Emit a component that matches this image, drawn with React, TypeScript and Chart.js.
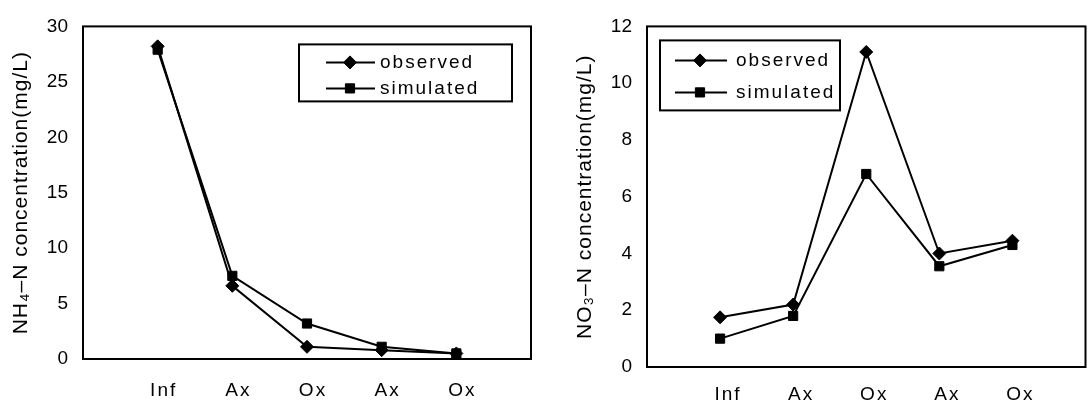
import React, { useEffect, useRef } from 'react';
import { Chart, registerables } from 'chart.js';
import { drawPoint } from 'chart.js/helpers';

Chart.register(...registerables);

// ---- data ----
const categories = ['Inf', 'Ax', 'Ox', 'Ax', 'Ox'];
const seriesNames = ['observed', 'simulated'];
const nh4Observed = [28.2, 6.6, 1.1, 0.8, 0.5];
const nh4Simulated = [27.9, 7.5, 3.2, 1.1, 0.5];
const no3Observed = [1.75, 2.2, 11.1, 4.0, 4.45];
const no3Simulated = [1.0, 1.8, 6.8, 3.55, 4.3];
const nh4Ticks = [0, 5, 10, 15, 20, 25, 30];
const no3Ticks = [0, 2, 4, 6, 8, 10, 12];
const nh4Title = 'NH₄–N concentration(mg/L)';
const no3Title = 'NO₃–N concentration(mg/L)';

const FONT = '"Liberation Sans", Arial, Helvetica, sans-serif';

const spacingPlugin = {
  id: 'spacing',
  beforeDraw(chart: any) {
    chart.ctx.letterSpacing = '2px';
  },
};

const framePlugin = {
  id: 'frame',
  beforeDatasetsDraw(chart: any) {
    const { ctx } = chart;
    const { left, top, right, bottom } = chart.chartArea;
    ctx.save();
    ctx.lineWidth = 2;
    ctx.strokeStyle = '#000';
    ctx.strokeRect(left, top, right - left, bottom - top);
    ctx.restore();
  },
};

const boxLegendPlugin = {
  id: 'boxLegend',
  afterDraw(chart: any, _args: any, opts: any) {
    const { ctx } = chart;
    const ca = chart.chartArea;
    const x = ca.left + opts.dx;
    const y = ca.top + opts.dy;
    ctx.save();
    ctx.fillStyle = '#fff';
    ctx.fillRect(x, y, opts.w, opts.h);
    ctx.lineWidth = 2;
    ctx.strokeStyle = '#000';
    ctx.strokeRect(x, y, opts.w, opts.h);
    chart.data.datasets.forEach((ds: any, i: number) => {
      const cy = y + opts.rows[i];
      ctx.beginPath();
      ctx.lineWidth = 2;
      ctx.strokeStyle = '#000';
      ctx.moveTo(x + opts.lineFrom, cy);
      ctx.lineTo(x + opts.lineTo, cy);
      ctx.stroke();
      ctx.fillStyle = '#000';
      ctx.lineWidth = 1;
      drawPoint(ctx, { pointStyle: ds.pointStyle, radius: ds.pointRadius, borderWidth: 1, rotation: 0 } as any, x + opts.marker, cy);
      ctx.fillStyle = '#000';
      ctx.font = `19px ${FONT}`;
      ctx.textBaseline = 'middle';
      ctx.textAlign = 'left';
      ctx.letterSpacing = '2px';
      ctx.fillText(ds.label, x + opts.textX, cy);
    });
    ctx.restore();
  },
};

type PanelProps = {
  width: number;
  observed: number[];
  simulated: number[];
  ticks: number[];
  title: string;
  yAxisWidth: number;
  xAxisHeight: number;
  padding: { top: number; right: number; bottom: number; left: number };
  xTickPadding: number;
  labelOffset: number;
  titlePad: number;
  legend: any;
};

function Panel(p: PanelProps) {
  const ref = useRef<HTMLCanvasElement | null>(null);
  useEffect(() => {
    if (!ref.current) return;
    const toPoints = (arr: number[]) => arr.map((v, i) => ({ x: i + 1, y: v }));
    const chart = new Chart(ref.current, {
      type: 'line',
      data: {
        datasets: [
          {
            label: seriesNames[0],
            data: toPoints(p.observed),
            borderColor: '#000',
            backgroundColor: '#000',
            borderWidth: 2,
            pointStyle: 'rectRot',
            pointRadius: 6.5,
            pointBorderWidth: 1,
            pointBackgroundColor: '#000',
            pointBorderColor: '#000',
            tension: 0,
          },
          {
            label: seriesNames[1],
            data: toPoints(p.simulated),
            borderColor: '#000',
            backgroundColor: '#000',
            borderWidth: 2,
            pointStyle: 'rect',
            pointRadius: 6.5,
            pointBorderWidth: 1,
            pointBackgroundColor: '#000',
            pointBorderColor: '#000',
            tension: 0,
          },
        ],
      },
      options: {
        responsive: false,
        animation: false,
        devicePixelRatio: 1,
        layout: { padding: p.padding },
        plugins: {
          legend: { display: false },
          tooltip: { enabled: false },
          boxLegend: p.legend,
        } as any,
        scales: {
          x: {
            type: 'linear',
            min: 0,
            max: categories.length + 1,
            grid: { display: false, drawTicks: false },
            border: { display: false },
            afterBuildTicks: (scale: any) => {
              scale.ticks = categories.map((_, i) => ({ value: i + 1 }));
            },
            afterFit: (scale: any) => {
              scale.height = p.xAxisHeight;
            },
            ticks: {
              autoSkip: false,
              maxRotation: 0,
              padding: p.xTickPadding,
              labelOffset: p.labelOffset,
              color: '#000',
              font: { family: FONT, size: 19 },
              callback: (v: any) => categories[Math.round(Number(v)) - 1] ?? '',
            },
          },
          y: {
            type: 'linear',
            min: p.ticks[0],
            max: p.ticks[p.ticks.length - 1],
            grid: { display: false, drawTicks: false },
            border: { display: false },
            afterBuildTicks: (scale: any) => {
              scale.ticks = p.ticks.map((v) => ({ value: v }));
            },
            afterFit: (scale: any) => {
              scale.width = p.yAxisWidth;
              if (!scale.__wrapped) {
                const origLabels = scale.drawLabels.bind(scale);
                scale.drawLabels = (ca: any) => {
                  scale.ctx.save();
                  scale.ctx.letterSpacing = '0px';
                  origLabels(ca);
                  scale.ctx.restore();
                };
                const origTitle = scale.drawTitle.bind(scale);
                scale.drawTitle = () => {
                  scale.ctx.save();
                  scale.ctx.letterSpacing = '1px';
                  origTitle();
                  scale.ctx.restore();
                };
                scale.__wrapped = true;
              }
            },
            ticks: {
              padding: 15,
              color: '#000',
              font: { family: FONT, size: 19 },
            },
            title: {
              display: true,
              text: p.title,
              color: '#000',
              font: { family: FONT, size: 21 },
              padding: { top: p.titlePad, bottom: 0 },
            },
          },
        },
      },
      plugins: [spacingPlugin, framePlugin, boxLegendPlugin],
    } as any);
    return () => chart.destroy();
  }, []);
  return <canvas ref={ref} width={p.width} height={402} style={{ display: 'block' }} />;
}

export default function App() {
  return (
    <div
      style={{
        position: 'fixed',
        left: 0,
        top: 0,
        width: 1089,
        height: 402,
        overflow: 'hidden',
        background: '#fff',
      }}
    >
      <div style={{ position: 'absolute', left: 0, top: 0, width: 545, height: 402 }}>
        <Panel
          width={545}
          observed={nh4Observed}
          simulated={nh4Simulated}
          ticks={nh4Ticks}
          title={nh4Title}
          yAxisWidth={83}
          xAxisHeight={43}
          padding={{ top: 15, right: 14, bottom: 0, left: 0 }}
          xTickPadding={20}
          labelOffset={6}
          titlePad={8.4}
          legend={{ dx: 216, dy: 18, w: 213, h: 57, lineFrom: 27, lineTo: 76, marker: 51, textX: 81, rows: [18, 44] }}
        />
      </div>
      <div style={{ position: 'absolute', left: 545, top: 0, width: 548, height: 402 }}>
        <Panel
          width={548}
          observed={no3Observed}
          simulated={no3Simulated}
          ticks={no3Ticks}
          title={no3Title}
          yAxisWidth={102}
          xAxisHeight={35}
          padding={{ top: 11, right: 2, bottom: 0, left: 0 }}
          xTickPadding={16}
          labelOffset={8}
          titlePad={27.4}
          legend={{ dx: 13, dy: 14, w: 180, h: 70, lineFrom: 15, lineTo: 67, marker: 40, textX: 76, rows: [20, 52] }}
        />
      </div>
    </div>
  );
}
